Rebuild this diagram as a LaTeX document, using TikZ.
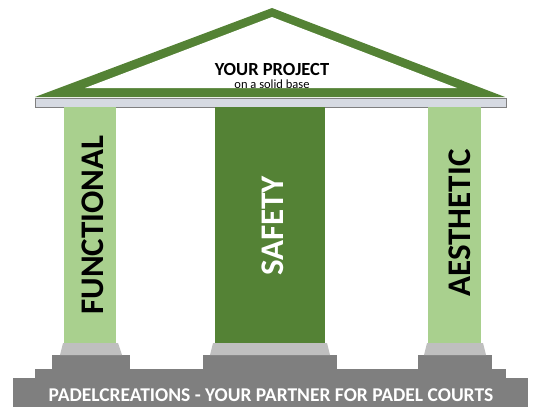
\documentclass[tikz,border=0pt]{standalone}
\usepackage{fontspec}
\setmainfont{Carlito}
\definecolor{roofgreen}{RGB}{84,130,53}
\definecolor{lightgreen}{RGB}{169,208,142}
\definecolor{basegray}{RGB}{127,127,127}
\definecolor{lightgray}{RGB}{191,191,191}
\definecolor{cornice}{RGB}{214,218,226}
\begin{document}
\begin{tikzpicture}[x=1pt,y=-1pt,
  pillar/.style={fill=lightgreen},
  stepbox/.style={fill=basegray},
  plinth/.style={fill=lightgray},
  pillartext/.style={rotate=90,anchor=base,inner sep=0pt,font=\fontsize{33}{33}\selectfont\bfseries}]
\useasboundingbox (0,0) rectangle (545,412);
% roof
\fill [roofgreen] (35,97) -- (272,8) -- (505,97) -- cycle;
\fill [white] (85,88) -- (272,17) -- (457,88) -- cycle;
\filldraw [fill=cornice, draw=gray, thick] (35,98) rectangle (506,107);
\node [anchor=base,inner sep=0pt,font=\fontsize{18.5}{18.5}\selectfont\bfseries] (project) at (272,75) {YOUR PROJECT};
\node [anchor=base,inner sep=0pt,font=\fontsize{12.5}{12.5}\selectfont] (base) at (272,88) {on a solid base};

% columns
\fill [pillar] (64,107) rectangle (116,343);
\fill [roofgreen] (215,107) rectangle (325,343);
\fill [pillar] (428,107) rectangle (481,343);

% steps
\fill [stepbox] (13,378) rectangle (528,407);
\fill [stepbox] (35,369) rectangle (506,378.5);
\fill [stepbox] (52,355) rectangle (130,369.5);
\fill [stepbox] (203,355) rectangle (337,369.5);
\fill [stepbox] (418,355) rectangle (492,369.5);
\fill [plinth] (63,343) -- (118,343) -- (122,355) -- (60,355) -- cycle;
\fill [plinth] (213,343) -- (327,343) -- (330,355) -- (210,355) -- cycle;
\fill [plinth] (427,343) -- (483,343) -- (486,355) -- (424,355) -- cycle;

\node [pillartext] (functional) at (103,225) {FUNCTIONAL};
\node [pillartext,text=white] (safety) at (283,226) {SAFETY};
\node [pillartext] (aesthetic) at (470,223) {AESTHETIC};

\node [anchor=base,inner sep=0pt,text=white,font=\fontsize{19.5}{19.5}\selectfont\bfseries] (slogan) at (271,401.5) {PADELCREATIONS - YOUR PARTNER FOR PADEL COURTS};
\end{tikzpicture}
\end{document}
